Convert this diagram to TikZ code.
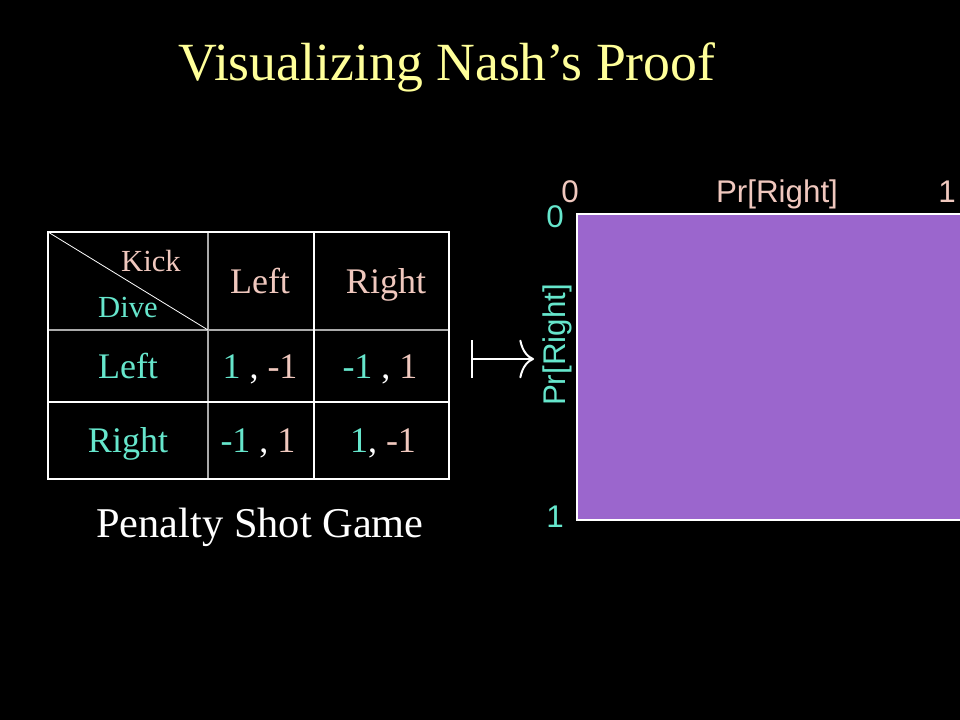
\documentclass[tikz,border=0pt]{standalone}
\usepackage{fontspec}
\setmainfont{Liberation Serif}
\newfontfamily\sansf{Liberation Sans}
\usetikzlibrary{arrows.meta}
\definecolor{ttl}{RGB}{255,255,153}
\definecolor{pk}{RGB}{240,200,190}
\definecolor{cy}{RGB}{102,230,204}
\definecolor{pu}{RGB}{155,102,205}
\definecolor{gridg}{RGB}{170,170,170}
\begin{document}
\begin{tikzpicture}[x=0.75pt,y=-0.75pt,
  lbl/.style={anchor=base,inner sep=0pt},
  cell/.style={lbl,font=\fontsize{27}{30}\selectfont},
  small/.style={lbl,font=\fontsize{23}{26}\selectfont},
  ax/.style={lbl,font=\sansf\fontsize{23.5}{27}\selectfont}]
\fill[black] (0,0) rectangle (960,720);
\useasboundingbox (0,0) rectangle (960,720);
% title
\node[lbl,text=ttl,font=\fontsize{40.3}{46}\selectfont] (title) at (447,81) {Visualizing Nash’s Proof};
% table
\draw[gridg,line width=1.5pt] (208,232) -- (208,479);
\draw[gridg,line width=1.5pt] (48,330) -- (449,330);
\draw[white,line width=1.5pt] (314,232) -- (314,479);
\draw[white,line width=1.5pt] (48,402) -- (449,402);
\draw[white,line width=0.6pt] (48,232) -- (208,330);
\draw[white,line width=1.8pt] (48,232) rectangle (449,479);
\node[small,text=pk] (kick) at (151,272) {Kick};
\node[small,text=cy] (dive) at (128,317) {Dive};
\node[cell,text=pk] (hl) at (260,294) {Left};
\node[cell,text=pk] (hr) at (386,294) {Right};
\node[cell,text=cy] (rl) at (128,378) {Left};
\node[cell,text=cy] (rr) at (128,452) {Right};
\node[cell] (c11) at (260,378) {\textcolor{cy}{1}\ \textcolor{white}{,}\ \textcolor{pk}{-1}};
\node[cell] (c12) at (380,378) {\textcolor{cy}{-1}\ \textcolor{white}{,}\ \textcolor{pk}{1}};
\node[cell] (c21) at (258,452) {\textcolor{cy}{-1}\ \textcolor{white}{,}\ \textcolor{pk}{1}};
\node[cell] (c22) at (383,452) {\textcolor{cy}{1}\textcolor{white}{,}\ \textcolor{pk}{-1}};
\node[lbl,text=white,font=\fontsize{31.8}{36}\selectfont] (game) at (260,537) {Penalty Shot Game};
% mapsto
\coordinate (ms) at (471,359);
\coordinate (me) at (534,359);
\draw[white,line width=1.5pt,{Bar[width=28.5pt]}-{To[length=11pt,width=29pt]}] (ms) -- (me);
% square
\fill[pu] (577,214) rectangle (970,520);
\draw[white,line width=1.2pt] (970,214) -- (577,214) -- (577,520) -- (970,520);
\node[ax,text=pk] (x0) at (570,203) {0};
\node[ax,text=pk] (xl) at (777,203) {Pr[Right]};
\node[ax,text=pk] (x1) at (947,203) {1};
\node[ax,text=cy] (y0) at (555,228) {0};
\node[ax,text=cy] (y1) at (555,527) {1};
\node[ax,text=cy,rotate=90] (yl) at (565,345) {Pr[Right]};
\end{tikzpicture}
\end{document}
